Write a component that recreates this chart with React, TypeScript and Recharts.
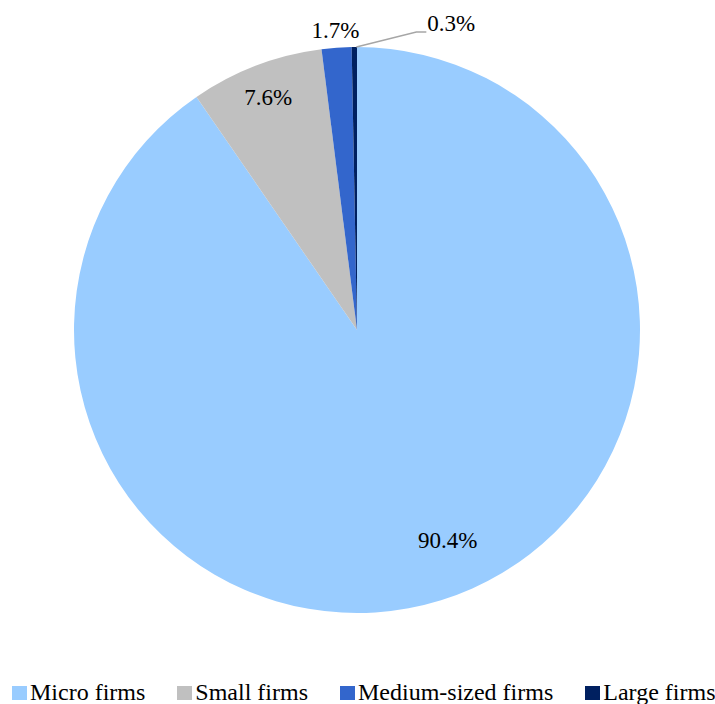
import { PieChart, Pie, Cell, Legend } from "recharts";

const CATEGORIES = ["Micro firms", "Small firms", "Medium-sized firms", "Large firms"];
const SHARES = [90.4, 7.6, 1.7, 0.3];
const COLORS = ["#99CCFF", "#C0C0C0", "#3366CC", "#002060"];

// label placement: fraction of the radius, and an angle nudge in degrees
const LABEL_RADIUS = [0.81, 0.88, 1.06, 1.0];
const LABEL_NUDGE = [6, 0, 0, 0];

const FONT = "Liberation Serif";
const RADIAN = Math.PI / 180;

const data = CATEGORIES.map((name, i) => ({ name, value: SHARES[i] }));

function renderLabel(props: any) {
  const { cx, cy, midAngle, outerRadius, index, value } = props;
  const a = (midAngle + LABEL_NUDGE[index]) * RADIAN;
  const r = outerRadius * LABEL_RADIUS[index];
  const x = cx + r * Math.cos(-a);
  const y = cy + r * Math.sin(-a);
  const text = `${value.toFixed(1)}%`;

  if (index === 3) {
    // small slice gets a leader line out to the right
    const ex = x + 62;
    const ey = y - 15;
    return (
      <g>
        <polyline
          points={`${x + 2},${y} ${ex},${ey} ${ex + 10},${ey}`}
          fill="none"
          stroke="#A6A6A6"
          strokeWidth={1.5}
        />
        <text x={ex + 11} y={ey - 9} fontFamily={FONT} fontSize={23} fill="#000" textAnchor="start" dominantBaseline="central">
          {text}
        </text>
      </g>
    );
  }
  return (
    <text x={x} y={y} fontFamily={FONT} fontSize={23} fill="#000" textAnchor="middle" dominantBaseline="central">
      {text}
    </text>
  );
}

function LegendContent() {
  return (
    <div style={{ display: "flex", paddingLeft: 12, fontFamily: FONT, fontSize: 24, color: "#000" }}>
      {CATEGORIES.map((c, i) => (
        <div key={c} style={{ display: "flex", alignItems: "flex-end", marginRight: i < CATEGORIES.length - 1 ? 32 : 0 }}>
          <span style={{ width: 15, height: 14, background: COLORS[i], display: "inline-block", marginRight: 3, marginBottom: 4 }} />
          <span style={{ lineHeight: "24px", whiteSpace: "nowrap" }}>{c}</span>
        </div>
      ))}
    </div>
  );
}

export default function App() {
  return (
    <div style={{ position: "absolute", left: 0, top: 0, width: 715, height: 704, background: "#fff", fontFamily: FONT }}>
      <PieChart width={715} height={704} margin={{ top: 0, right: 0, bottom: 0, left: 0 }}>
        <Pie
          data={data}
          dataKey="value"
          nameKey="name"
          cx={357}
          cy={330}
          outerRadius={283}
          startAngle={90}
          endAngle={-270}
          stroke="none"
          label={renderLabel}
          labelLine={false}
          isAnimationActive={false}
        >
          {data.map((_, i) => (
            <Cell key={i} fill={COLORS[i]} />
          ))}
        </Pie>
        <Legend
          content={<LegendContent />}
          verticalAlign="bottom"
          wrapperStyle={{ left: 0, width: 715, bottom: 0 }}
        />
      </PieChart>
    </div>
  );
}
